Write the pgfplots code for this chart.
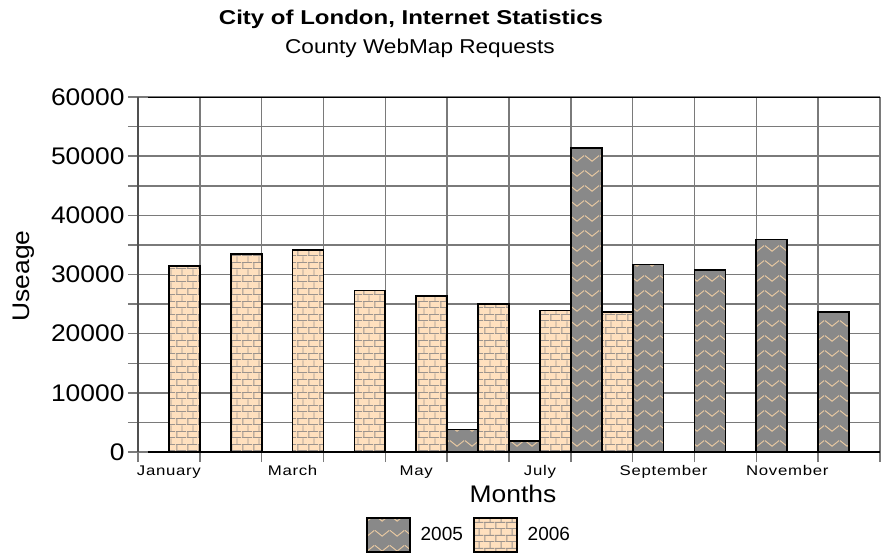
\documentclass[border=0pt]{standalone}
\usepackage{pgfplots}
\pgfplotsset{compat=1.18}
\usepackage{fontspec}
\setmainfont{Liberation Sans}
\newfontfamily\titlefont[FakeStretch=1.2]{Liberation Sans}
\newfontfamily\subfont[FakeStretch=1.13]{Liberation Sans}
\newfontfamily\labfont[FakeStretch=1.1]{Liberation Sans}
\newfontfamily\xtfont[FakeStretch=1.2,LetterSpace=5]{Liberation Sans}
\usetikzlibrary{patterns,patterns.meta}
\definecolor{gridgray}{HTML}{7A7A7A}
\definecolor{axisgray}{HTML}{505050}
\definecolor{bargray}{HTML}{898989}
\definecolor{peach}{HTML}{FFE0BE}
\definecolor{zig}{HTML}{EACAA2}
\definecolor{brickline}{HTML}{9C948E}

\tikzdeclarepattern{
  name=mybricks,
  type=uncolored,
  bounding box={(0pt,0pt) and (11pt,13pt)},
  tile size={(11pt,13pt)},
  line width=1.1pt,
  code={
    \draw (0pt,0.5pt) -- (11pt,0.5pt);
    \draw (0pt,7pt) -- (11pt,7pt);
    \draw (1pt,0.5pt) -- (1pt,7pt);
    \draw (6.5pt,7pt) -- (6.5pt,13.5pt);
  }
}
\tikzdeclarepattern{
  name=myzigzag,
  type=uncolored,
  bounding box={(0pt,0pt) and (15pt,15pt)},
  tile size={(15pt,15pt)},
  line width=1pt,
  code={
    \draw (0pt,10pt) -- (7.5pt,4pt) -- (15pt,10pt);
  }
}

\begin{document}
\begin{tikzpicture}
\begin{axis}[
  name=ax,
  scale only axis,
  width=742pt, height=355pt,
  xmin=0.5, xmax=12.5, ymin=0, ymax=60000,
  axis x line*=bottom, axis y line*=left,
  axis line style={-},
  x axis line style={draw=none},
  y axis line style={axisgray, line width=2.4pt},
  ybar, bar width=0.5,
  xtick={1,3,5,7,9,11},
  xticklabels={January,March,May,July,September,November},
  minor xtick={0.5,1.5,...,12.5},
  xmajorgrids=false, xminorgrids=true,
  ytick={0,10000,...,60000},
  minor ytick={5000,15000,...,55000},
  ymajorgrids=true, yminorgrids=true,
  grid style={gridgray, line width=1.5pt},
  minor grid style={gridgray, line width=1.5pt},
  major grid style={gridgray, line width=1.5pt},
  tick align=outside,
  major tick length=10pt, minor tick length=10pt,
  major x tick style={draw=none},
  tick style={gridgray, line width=1.5pt},
  scaled y ticks=false,
  /pgf/number format/1000 sep={},
  /pgf/number format/assume math mode=true,
  yticklabel style={font=\labfont\fontsize{24}{24}\selectfont, text=black},
  xticklabel style={font=\xtfont\fontsize{14}{14}\selectfont, text=black},
  legend columns=2,
  legend style={at={(0.446,-0.234)}, anchor=center, draw=none, fill=none,
    font=\fontsize{19}{19}\selectfont,
    /tikz/every odd column/.append style={column sep=8pt},
    /tikz/every even column/.append style={column sep=8pt}},
  legend image code/.code={\draw[#1] (0pt,-17pt) rectangle (43pt,17pt);},
  legend cell align=left,
]
\addplot[fill=bargray, draw=black, line width=1.8pt, bar shift=-0.25,
  postaction={pattern=myzigzag, pattern color=zig}]
  coordinates {(6,3800) (7,1800) (8,51400) (9,31700) (10,30800) (11,35900) (12,23600)};
\addlegendentry{2005}
\addplot[fill=peach, draw=black, line width=1.8pt, bar shift=0.25,
  postaction={pattern=mybricks, pattern color=brickline}]
  coordinates {(1,31500) (2,33500) (3,34100) (4,27300) (5,26300) (6,25000) (7,23900) (8,23600)};
\addlegendentry{2006}
\draw[black, line width=2.2pt] (axis cs:0.66,0) -- (axis cs:12.5,0);
\draw[black, line width=1.6pt] (axis cs:0.66,60000) -- (axis cs:12.5,60000);
\end{axis}
\node[font=\titlefont\bfseries\fontsize{20}{20}\selectfont] at ([shift={(273pt,433pt)}]ax.south west) {City of London, Internet Statistics};
\node[font=\subfont\fontsize{20}{20}\selectfont] at ([shift={(282pt,404pt)}]ax.south west) {County WebMap Requests};
\node[font=\labfont\fontsize{24}{24}\selectfont] at ([shift={(375pt,-42pt)}]ax.south west) {Months};
\node[rotate=90, font=\labfont\fontsize{24}{24}\selectfont] at ([shift={(-114pt,176pt)}]ax.south west) {Useage};
\pgfresetboundingbox
\path ([shift={(-138pt,-102pt)}]ax.south west) rectangle ([shift={(5pt,97pt)}]ax.north east);
\end{tikzpicture}
\end{document}
